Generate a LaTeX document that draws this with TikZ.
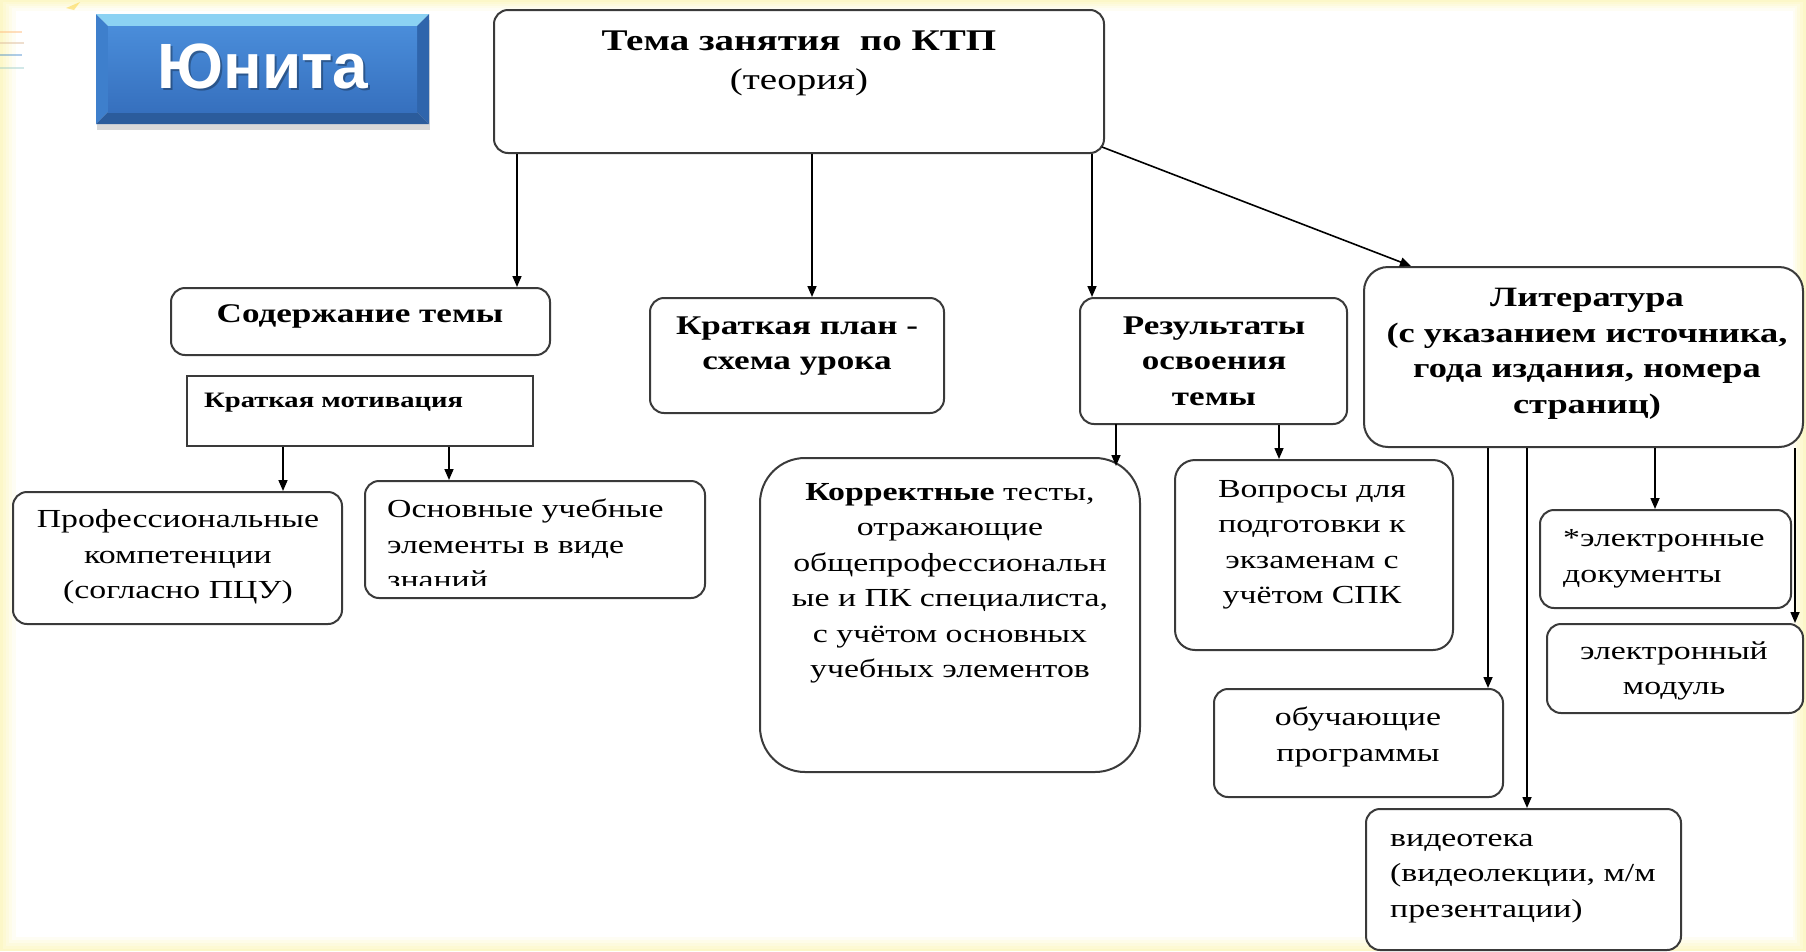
\documentclass[tikz,border=0pt]{standalone}
\usepackage{fontspec}
\setmainfont[FakeStretch=1.3]{Liberation Serif}
\newfontfamily\btnfont{Liberation Sans}
\usetikzlibrary{arrows.meta}
\definecolor{bgyellow}{HTML}{FCF7C8}
\definecolor{edgecol}{HTML}{3A3A3A}
\definecolor{btop}{HTML}{8CD2F3}
\definecolor{bleft}{HTML}{3E7FCC}
\definecolor{bright}{HTML}{2F65AC}
\definecolor{bbottom}{HTML}{2B5C9C}
\definecolor{bfacetop}{HTML}{4A8DDA}
\definecolor{bfacebot}{HTML}{3670BE}
\begin{document}
\begin{tikzpicture}[x=1pt,y=-1pt,
  box/.style={draw=edgecol, line width=2pt, rounded corners=14pt, fill=white, inner sep=0pt},
  sharpbox/.style={draw=edgecol, line width=2pt, fill=white, inner sep=0pt},
  txt/.style={inner sep=0pt, align=center, font=\fontsize{26}{35.5}\selectfont},
  btxt/.style={inner sep=0pt, align=center, font=\fontsize{27}{35.5}\selectfont\bfseries},
  ltxt/.style={inner sep=0pt, align=left, font=\fontsize{26}{35.5}\selectfont},
  arr/.style={draw=black, line width=1.6pt, -{Triangle[length=11pt,width=9pt]}},
]
% background
\useasboundingbox (0,0) rectangle (1806,951);
\fill[bgyellow] (0,0) rectangle (1806,951);
\fill[bgyellow!80!white] (3,2) rectangle (1803,949);
\fill[bgyellow!60!white] (6,4) rectangle (1800,946);
\fill[bgyellow!40!white] (9,6) rectangle (1797,943);
\fill[bgyellow!20!white] (12,8) rectangle (1795,940);
\fill[white] (16,11) rectangle (1793,937);
% decorations top-left
\draw[orange!50, line width=2pt, opacity=.5] (0,32) -- (22,32);
\draw[brown!50, line width=2pt, opacity=.5] (0,43) -- (24,43);
\draw[cyan!50!blue, line width=2pt, opacity=.35] (0,55) -- (22,55);
\draw[teal!50, line width=2pt, opacity=.35] (0,68) -- (24,68);
\fill[yellow!60!orange, opacity=.4] (66,8) -- (80,2) -- (74,10) -- cycle;

% button
\fill[black, opacity=.15] (97,20) rectangle (430,130);
\fill[btop] (96,14) -- (429,14) -- (417,26) -- (108,26) -- cycle;
\fill[bleft] (96,14) -- (108,26) -- (108,112) -- (96,124) -- cycle;
\fill[bright] (429,14) -- (417,26) -- (417,112) -- (429,124) -- cycle;
\fill[bbottom] (96,124) -- (108,112) -- (417,112) -- (429,124) -- cycle;
\shade[top color=bfacetop, bottom color=bfacebot] (108,26) rectangle (417,112);
\node[font=\btnfont\bfseries\fontsize{64}{70}\selectfont, text=black, opacity=.3, inner sep=0pt] (unitsh) at (265,68) {Юнита};
\node[font=\btnfont\bfseries\fontsize{64}{70}\selectfont, text=white, inner sep=0pt] (unit) at (263,66) {Юнита};

% boxes
\node[box, minimum width=610pt, minimum height=143pt] (tema) at (799,81.5) {};
\node[inner sep=0pt, align=center, font=\fontsize{30}{39}\selectfont] (tema-t) at (799,63)
  {\textbf{Тема занятия\ \ по КТП}\\(теория)};

\node[box, minimum width=379pt, minimum height=67pt] (soder) at (360.5,321.5) {};
\node[btxt] (soder-t) at (360,316) {Содержание темы};

\node[sharpbox, minimum width=346pt, minimum height=70pt] (motiv) at (360,411) {};
\node[inner sep=0pt, anchor=base west, font=\fontsize{22}{28}\selectfont\bfseries] (motiv-t) at (204,407) {Краткая мотивация};

\node[box, minimum width=329pt, minimum height=132pt] (prof) at (177.5,558) {};
\node[txt] (prof-t) at (178,557) {Профессиональные\\компетенции\\(согласно ПЦУ)};

\node[box, minimum width=340pt, minimum height=117pt] (osn) at (535,539.5) {};
\begin{scope}
\clip (367,483) rectangle (703,585.5);
\node[ltxt, anchor=north west] (osn-t) at (387,499) {Основные учебные\\элементы в виде\\знаний};
\end{scope}

\node[box, minimum width=294pt, minimum height=115pt] (plan) at (797,355.5) {};
\node[btxt] (plan-t) at (797,346) {Краткая план -\\схема урока};

\node[box, minimum width=267pt, minimum height=126pt] (rez) at (1213.5,361) {};
\node[btxt] (rez-t) at (1214,361) {Результаты\\освоения\\темы};

\node[box, rounded corners=24pt, minimum width=439pt, minimum height=180pt] (lit) at (1583.5,357) {};
\node[inner sep=0pt, align=center, font=\fontsize{28}{35.5}\selectfont\bfseries] (lit-t) at (1587,354) {Литература\\(с указанием источника,\\года издания, номера\\страниц)};

\node[box, rounded corners=45pt, minimum width=380pt, minimum height=314pt] (korr) at (950,615) {};
\node[txt] (korr-t) at (950,583.5) {\textbf{Корректные} тесты,\\отражающие\\общепрофессиональн\\ые и ПК специалиста,\\с учётом основных\\учебных элементов};

\node[box, rounded corners=20pt, minimum width=278pt, minimum height=190pt] (vopr) at (1314,555) {};
\node[txt] (vopr-t) at (1312,545) {Вопросы для\\подготовки к\\экзаменам с\\учётом СПК};

\node[box, minimum width=251pt, minimum height=98pt] (edocs) at (1665.5,559) {};
\node[ltxt, anchor=west] (edocs-t) at (1563,559) {*электронные\\документы};

\node[box, minimum width=256pt, minimum height=89pt] (emod) at (1675,668.5) {};
\node[txt] (emod-t) at (1674,671) {электронный\\модуль};

\node[box, minimum width=289pt, minimum height=108pt] (obuch) at (1358.5,743) {};
\node[txt] (obuch-t) at (1358,737) {обучающие\\программы};

\node[box, minimum width=315pt, minimum height=141pt] (video) at (1523.5,879.5) {};
\node[ltxt, anchor=west] (video-t) at (1390,878.5) {видеотека\\(видеолекции, м/м\\презентации)};

% connector x positions
\coordinate (c517) at (517,0);
\coordinate (c812) at (812,0);
\coordinate (c1092) at (1092,0);
\coordinate (c1411) at (1411,0);
\coordinate (c283) at (283,0);
\coordinate (c449) at (449,0);
\coordinate (c1279) at (1279,0);
\coordinate (c1488) at (1488,0);
\coordinate (c1527) at (1527,0);
\coordinate (c1655) at (1655,0);
\coordinate (c1795) at (1795,0);
\coordinate (temacorner) at (1102,147);
\coordinate (rezleft) at (1116,424);
\coordinate (korrtip) at (1116,466);

% connectors
\draw[arr] (tema.south -| c517) -- (soder.north -| c517);
\draw[arr] (tema.south -| c812) -- (plan.north -| c812);
\draw[arr] (tema.south -| c1092) -- (rez.north -| c1092);
\draw[arr] (temacorner) -- (lit.north -| c1411);
\draw[arr] (motiv.south -| c283) -- (prof.north -| c283);
\draw[arr] (motiv.south -| c449) -- (osn.north -| c449);
\draw[arr] (rezleft) -- (korrtip);
\draw[arr] (rez.south -| c1279) -- (vopr.north -| c1279);
\draw[arr] (lit.south -| c1488) -- (obuch.north -| c1488);
\draw[arr] (lit.south -| c1527) -- (video.north -| c1527);
\draw[arr] (lit.south -| c1655) -- (edocs.north -| c1655);
\draw[arr] (lit.south -| c1795) -- (emod.north -| c1795);
\end{tikzpicture}
\end{document}
